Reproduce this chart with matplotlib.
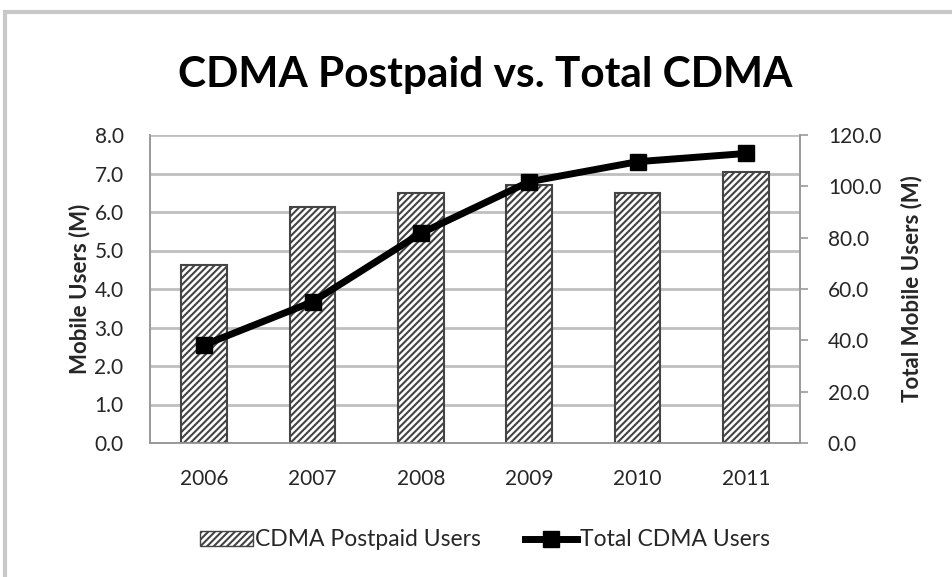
import matplotlib
matplotlib.use("Agg")
import matplotlib.pyplot as plt
from matplotlib.patches import Rectangle
from matplotlib.lines import Line2D
import numpy as np

plt.rcParams['font.family'] = ['Lato', 'DejaVu Sans']
plt.rcParams['hatch.linewidth'] = 1.5
plt.rcParams['hatch.color'] = 'black'

years = ['2006', '2007', '2008', '2009', '2010', '2011']
postpaid_users = [4.62, 6.14, 6.49, 6.70, 6.49, 7.05]
total_users = [38.2, 55.0, 81.7, 101.8, 109.6, 112.8]

left_ticks = [0, 1, 2, 3, 4, 5, 6, 7, 8]
right_ticks = [0, 20, 40, 60, 80, 100, 120]

grid_col = '#bfbfbf'
axis_col = '#999999'
text_col = '#262626'
bar_edge = '#444444'

fig = plt.figure(figsize=(9.52, 5.77), dpi=100)
ax = fig.add_axes([150 / 952, 1 - 443 / 577, 650 / 952, 308 / 577])
ax2 = ax.twinx()

x = np.arange(len(years))
ax.bar(x, postpaid_users, width=0.42, color='white', edgecolor=bar_edge,
       hatch='/////', linewidth=1.5, zorder=3)
ax.set_xlim(-0.5, len(years) - 0.5)
ax.set_ylim(0, 8)
ax.set_yticks(left_ticks)
ax.set_yticklabels([f'{v:.1f}' for v in left_ticks])
ax.set_xticks(x)
ax.set_xticklabels(years)
ax.yaxis.grid(True, color=grid_col, linewidth=2, zorder=0)
ax.set_axisbelow(True)
ax.tick_params(axis='y', length=0, labelsize=15, colors=text_col, pad=19)
ax.tick_params(axis='x', length=0, labelsize=15, colors=text_col, pad=19)
ax.set_ylabel('Mobile Users (M)', fontsize=16, fontweight='bold', color=text_col, labelpad=3)

ax2.plot(x, total_users, color='black', linewidth=5, marker='s', markersize=11,
         zorder=4)
ax2.set_ylim(0, 120)
ax2.set_yticks(right_ticks)
ax2.set_yticklabels([f'{v:.1f}' for v in right_ticks])
ax2.tick_params(axis='y', length=6, width=1.2, color=axis_col, labelsize=15, pad=14)
for lbl in ax2.get_yticklabels():
    lbl.set_color(text_col)
ax2.set_ylabel('Total Mobile Users (M)', fontsize=16, fontweight='bold', color=text_col, labelpad=14)

for a in (ax, ax2):
    a.spines['top'].set_visible(False)
    for side in ('left', 'right', 'bottom'):
        a.spines[side].set_color(axis_col)
        a.spines[side].set_linewidth(1.2)

fig.text(485 / 952, 1 - 75 / 577, 'CDMA Postpaid vs. Total CDMA', ha='center', va='center',
         fontsize=30.5, fontweight='bold', color='black')

handles = [Rectangle((0, 0), 1, 1, facecolor='white', edgecolor=bar_edge, hatch='/////'),
           Line2D([], [], color='black', linewidth=5, marker='s', markersize=11)]
fig.legend(handles, ['CDMA Postpaid Users', 'Total CDMA Users'], loc='center',
           bbox_to_anchor=(485 / 952, 1 - 540 / 577), ncol=2, frameon=False,
           fontsize=16.5, handlelength=2.3, handleheight=0.6, handletextpad=0.1,
           columnspacing=1.9, labelcolor=text_col)

# outer chart frame
fig.patches.append(Rectangle((5 / 952, -0.05), 1.1, 1 - 12 / 577 + 0.05, transform=fig.transFigure,
                             fill=False, edgecolor='#c8c8c8', linewidth=3))

fig.savefig('out.png', dpi=100)
